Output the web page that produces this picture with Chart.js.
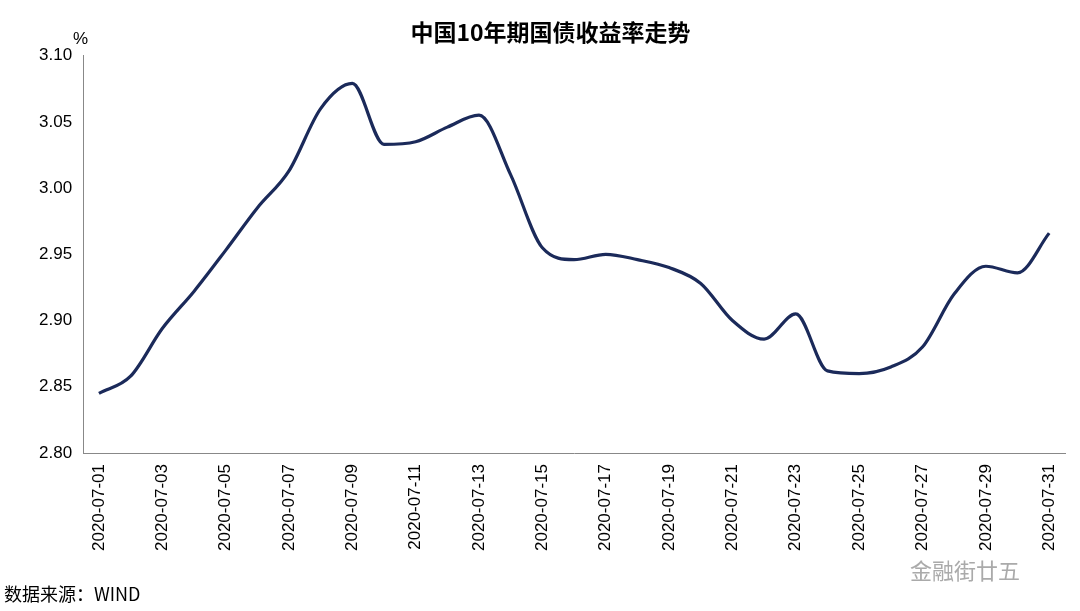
<!DOCTYPE html>
<html><head><meta charset="utf-8">
<script src="https://cdn.jsdelivr.net/npm/chart.js@4/dist/chart.umd.min.js"></script>
<style>body{margin:0;background:#fff;font-family:"Noto Sans CJK SC","Liberation Sans",sans-serif}
#w{position:relative;width:1080px;height:611px}
#src{position:absolute;left:4px;top:580px;font-size:18px;color:#000}
#wm{position:absolute;left:910px;top:553px;font-size:22px;color:#aaa}</style>
</head><body><div id="w"><canvas id="c" width="1080" height="611"></canvas>
<div id="src">数据来源：WIND</div><div id="wm">金融街廿五</div></div>
<script>
const dates=[];for(let d=1;d<=31;d++)dates.push('2020-07-'+String(d).padStart(2,'0'));
const yields=[2.845,2.858,2.894,2.922,2.953,2.985,3.013,3.060,3.079,3.033,3.035,3.046,3.055,3.010,2.955,2.946,2.950,2.946,2.940,2.928,2.900,2.886,2.905,2.862,2.860,2.865,2.880,2.920,2.941,2.936,2.966];
new Chart(document.getElementById('c'),{type:'line',
data:{labels:dates,datasets:[{data:yields,borderColor:'#1b2a5a',borderWidth:3.2,pointRadius:0,cubicInterpolationMode:'monotone',fill:false}]},
options:{responsive:false,animation:false,
layout:{padding:{left:36,right:15,top:8,bottom:57}},
plugins:{legend:{display:false},title:{display:true,text:'中国10年期国债收益率走势',color:'#000',font:{size:23,family:'Noto Sans CJK SC'},padding:{top:10,bottom:10}}},
scales:{x:{offset:true,grid:{display:false,drawTicks:true},border:{color:'#888'},
ticks:{autoSkip:false,maxRotation:90,minRotation:90,color:'#000',font:{size:17,family:'Liberation Sans'},callback:(v,i)=>i%2===0?dates[i]:''}},
y:{min:2.8,max:3.1,grid:{display:false},border:{color:'#888'},
ticks:{stepSize:0.05,color:'#000',font:{size:17,family:'Liberation Sans'},callback:v=>v.toFixed(2)}}}},
plugins:[{id:'pct',afterDraw(ch){const c=ch.ctx;c.save();c.font='17px Liberation Sans';c.fillStyle='#000';c.fillText('%',ch.chartArea.left-10,ch.chartArea.top-12);c.restore();}}]
});
</script></body></html>
